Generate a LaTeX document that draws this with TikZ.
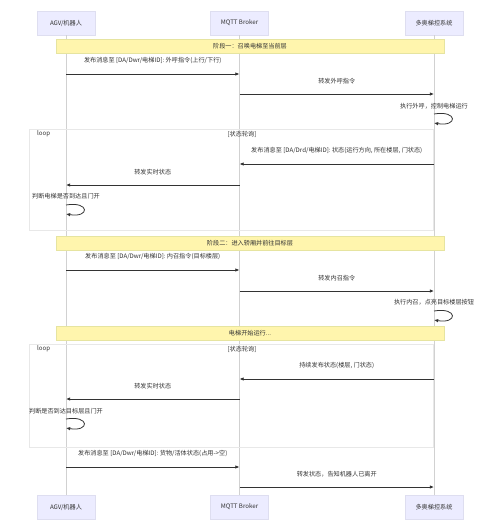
\documentclass[tikz,border=0pt]{standalone}
\usepackage{fontspec}
\setmainfont{Noto Sans CJK SC}
\usetikzlibrary{arrows.meta}
\definecolor{actorfill}{RGB}{236,236,255}
\definecolor{actorline}{RGB}{222,222,240}
\definecolor{notefill}{RGB}{255,245,173}
\definecolor{noteline}{RGB}{230,228,160}
\definecolor{txt}{RGB}{51,51,51}
\tikzset{
    actor/.style={draw=actorline, fill=actorfill, minimum width=1.16cm, minimum height=0.48cm, inner sep=0pt},
    phase/.style={draw=noteline, fill=notefill, minimum width=7.76cm, minimum height=0.28cm, inner sep=0pt},
    lifeline/.style={draw=black!18, line width=0.4pt},
    msg/.style={draw=txt, line width=0.45pt, -{Latex[length=2.4pt, width=2pt]}},
    loopbox/.style={draw=black!9, line width=0.4pt},
    every node/.style={font=\fontsize{3.5pt}{4.2pt}\selectfont, text=txt}
}
\begin{document}
\begin{tikzpicture}[x=0.02cm, y=-0.02cm]
    \useasboundingbox[fill=white] (0,0) rectangle (500,531);

    % Participants
    \node[actor] (agv) at (66,23) {AGV/机器人};
    \node[actor] (mqtt) at (239.5,23) {MQTT Broker};
    \node[actor] (elev) at (434,23) {多奥梯控系统};
    \node[actor] (agvB) at (66,507) {AGV/机器人};
    \node[actor] (mqttB) at (239.5,507) {MQTT Broker};
    \node[actor] (elevB) at (434,507) {多奥梯控系统};

    % Lifelines
    \draw[lifeline] (agv) -- (agvB);
    \draw[lifeline] (mqtt) -- (mqttB);
    \draw[lifeline] (elev) -- (elevB);

    % Loop frames
    \draw[loopbox] (29,129) rectangle (433,230);
    \node[anchor=west] (loopA) at (31,134) {loop};
    \node (condA) at (242,134) {[状态轮询]};
    \draw[loopbox] (29,344) rectangle (433,447);
    \node[anchor=west] (loopB) at (31,349) {loop};
    \node (condB) at (242,349) {[状态轮询]};

    % Phase 1
    \node[phase] (p1) at (250,46) {阶段一：召唤电梯至当前层};
    \draw[msg] (agv |- 0,74) -- (mqtt |- 0,74) node[midway, above=2.2pt] (m1) {发布消息至 [DA/Dwr/电梯ID]: 外呼指令(上行/下行)};
    \draw[msg] (mqtt |- 0,94) -- (elev |- 0,94) node[midway, above=2.2pt] (m2) {转发外呼指令};
    \node (s1) at (434,106) {执行外呼，控制电梯运行};
    \draw[msg] (elev |- 0,114) .. controls +(24,-4) and +(24,4) .. (elev |- 0,123);

    % Status polling 1
    \draw[msg] (elev |- 0,164) -- (mqtt |- 0,164) node[midway, above=2.2pt] (m3) {发布消息至 [DA/Drd/电梯ID]: 状态(运行方向, 所在楼层, 门状态)};
    \draw[msg] (mqtt |- 0,185) -- (agv |- 0,185) node[midway, above=2.2pt] (m4) {转发实时状态};
    \node (s2) at (66,196) {判断电梯是否到达且门开};
    \draw[msg] (agv |- 0,205) .. controls +(24,-4) and +(24,4) .. (agv |- 0,214);

    % Phase 2
    \node[phase] (p2) at (250,243) {阶段二：进入轿厢并前往目标层};
    \draw[msg] (agv |- 0,270) -- (mqtt |- 0,270) node[midway, above=2.2pt] (m5) {发布消息至 [DA/Dwr/电梯ID]: 内召指令(目标楼层)};
    \draw[msg] (mqtt |- 0,291) -- (elev |- 0,291) node[midway, above=2.2pt] (m6) {转发内召指令};
    \node (s3) at (434,302) {执行内召，点亮目标楼层按钮};
    \draw[msg] (elev |- 0,311) .. controls +(24,-4) and +(24,4) .. (elev |- 0,320);

    \node[phase] (p3) at (250,333) {电梯开始运行...};

    % Status polling 2
    \draw[msg] (elev |- 0,379) -- (mqtt |- 0,379) node[midway, above=2.2pt] (m7) {持续发布状态(楼层, 门状态)};
    \draw[msg] (mqtt |- 0,399) -- (agv |- 0,399) node[midway, above=2.2pt] (m8) {转发实时状态};
    \node (s4) at (66,411) {判断是否到达目标层且门开};
    \draw[msg] (agv |- 0,419) .. controls +(24,-4) and +(24,4) .. (agv |- 0,428);

    % Leaving
    \draw[msg] (agv |- 0,467) -- (mqtt |- 0,467) node[midway, above=2.2pt] (m9) {发布消息至 [DA/Dwr/电梯ID]: 货物/活体状态(占用->空)};
    \draw[msg] (mqtt |- 0,487) -- (elev |- 0,487) node[midway, above=2.2pt] (m10) {转发状态，告知机器人已离开};
\end{tikzpicture}
\end{document}
